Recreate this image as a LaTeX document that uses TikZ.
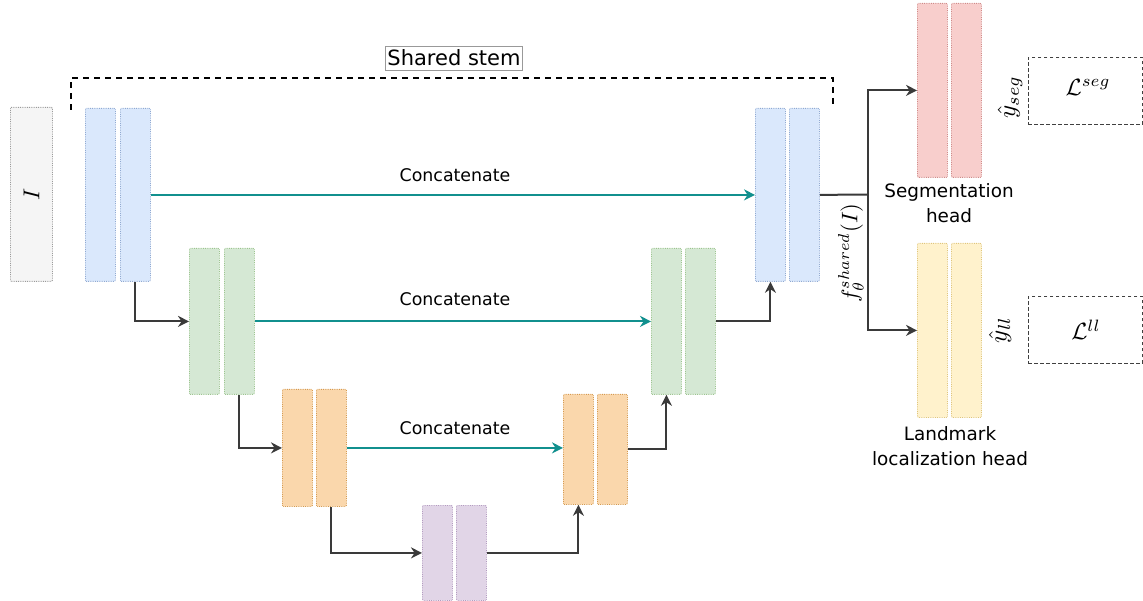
\documentclass[tikz,border=0pt]{standalone}
\usepackage{graphicx}
\usepackage{fontspec}
\setmainfont{DejaVu Sans}
\usetikzlibrary{arrows.meta}

\definecolor{grayfill}{HTML}{F5F5F5}\definecolor{graydraw}{HTML}{9A9A9A}
\definecolor{bluefill}{HTML}{DAE8FC}\definecolor{bluedraw}{HTML}{8FA9D3}
\definecolor{greenfill}{HTML}{D5E8D4}\definecolor{greendraw}{HTML}{9CC48F}
\definecolor{orangefill}{HTML}{FAD7AC}\definecolor{orangedraw}{HTML}{D69A4E}
\definecolor{purplefill}{HTML}{E1D5E7}\definecolor{purpledraw}{HTML}{B39BC0}
\definecolor{redfill}{HTML}{F8CECC}\definecolor{reddraw}{HTML}{D08A88}
\definecolor{yellowfill}{HTML}{FFF2CC}\definecolor{yellowdraw}{HTML}{E0C57A}
\definecolor{skip}{HTML}{11908E}
\definecolor{flow}{HTML}{3A3A3A}

\newcommand\blk[6]{\node[layer,#6,minimum width=#4pt,minimum height=#5pt,anchor=north west] (#1) at (#2,#3) {};}
\newcommand\scaledmath[2]{\scalebox{#1}{$#2$}}

\begin{document}
\begin{tikzpicture}[x=1pt,y=-1pt,
  layer/.style={densely dotted,line width=0.8pt,inner sep=0pt,rounded corners=1pt},
  gray/.style={fill=grayfill,draw=graydraw},
  blue/.style={fill=bluefill,draw=bluedraw},
  green/.style={fill=greenfill,draw=greendraw},
  orange/.style={fill=orangefill,draw=orangedraw},
  purple/.style={fill=purplefill,draw=purpledraw},
  red/.style={fill=redfill,draw=reddraw},
  yellow/.style={fill=yellowfill,draw=yellowdraw},
  concat/.style={draw=skip,line width=1.8pt,-{Stealth[length=11pt,width=11pt]}},
  down/.style={draw=flow,line width=2pt,-{Stealth[length=11pt,width=11pt]}},
  txt/.style={font=\fontsize{17.4}{25}\selectfont,inner sep=0pt,align=center},
  headcaption/.style={font=\fontsize{18.4}{25}\selectfont,inner sep=0pt,align=center},
  mth/.style={inner sep=0pt},
  loss/.style={draw=black!75,line width=0.9pt,dash pattern=on 3.5pt off 2.5pt}
]
\useasboundingbox (0,0) rectangle (1143,601);

% input image
\blk{inp}{10}{107}{42}{174}{gray}
\node[mth,rotate=90] (inlbl) at (inp.center) {\scaledmath{2.3}{I}};

% encoder
\blk{ea1}{85}{108}{30}{173}{blue}
\blk{eb1}{120}{108}{30}{173}{blue}
\blk{ea2}{189}{248}{30}{146}{green}
\blk{eb2}{224}{248}{30}{146}{green}
\blk{ea3}{282}{389}{30}{117}{orange}
\blk{eb3}{316}{389}{30}{117}{orange}
% bottleneck
\blk{bna}{422}{505}{30}{95}{purple}
\blk{bnb}{456}{505}{30}{95}{purple}
% decoder
\blk{da3}{563}{394}{30}{110}{orange}
\blk{db3}{597}{394}{30}{110}{orange}
\blk{da2}{651}{248}{30}{146}{green}
\blk{db2}{685}{248}{30}{146}{green}
\blk{da1}{755}{108}{30}{173}{blue}
\blk{db1}{789}{108}{30}{173}{blue}
% heads
\blk{sga}{917}{3}{30}{174}{red}
\blk{sgb}{951}{3}{30}{174}{red}
\blk{lla}{917}{243}{30}{174}{yellow}
\blk{llb}{951}{243}{30}{174}{yellow}

% shared stem bracket
\coordinate (brl) at (71,110);
\coordinate (brr) at (833,108);
\draw[line width=1.8pt,dash pattern=on 6pt off 5pt] (brl) -- (71,78) -- (833,78) -- (brr);
\node[font=\fontsize{21}{25}\selectfont,draw=black!40,line width=0.5pt,inner xsep=2pt,inner ysep=4pt,fill=white] (stem) at (454,58) {Shared stem};

% skip connections
\draw[concat] (eb1.east) -- (da1.west);
\node[txt] (c1) at (455,175) {Concatenate};
\draw[concat] (eb2.east) -- (da2.west);
\node[txt] (c2) at (455,299) {Concatenate};
\draw[concat] (eb3.east) -- (eb3.east -| da3.west);
\node[txt] (c3) at (455,428) {Concatenate};

% down path
\draw[down] (eb1.south) |- (ea2.west);
\draw[down] (eb2.south) |- (ea3.west);
\draw[down] (eb3.south) |- (bna.west);
% up path
\draw[down] (bnb.east) -| (da3.south);
\draw[down] (db3.east) -| (da2.south);
\draw[down] (db2.east) -| (da1.south);

% branch to heads
\coordinate (split) at (868,194.5);
\draw[flow,line width=2pt] (db1.east) -- (split);
\draw[down] (split) |- (sga.west);
\draw[down] (split) |- (lla.west);
\node[mth,rotate=90] (flbl) at (851,253) {\scaledmath{2.25}{f_\theta^{shared}(I)}};

% head captions
\node[headcaption] (sgcap) at (949,203) {Segmentation\\head};
\node[headcaption] (llcap) at (950,446) {Landmark\\localization head};

% predictions and losses
\node[mth,rotate=90] (yseg) at (1010,97) {\scaledmath{2.5}{\hat{y}_{seg}}};
\node[mth,rotate=90] (yll) at (1000,330) {\scaledmath{2.5}{\hat{y}_{ll}}};
\node[loss,minimum width=114pt,minimum height=67pt,anchor=north west] (lseg) at (1028,57) {};
\node[mth] (lsegt) at (1088,87) {\scaledmath{2.35}{\mathcal{L}^{seg}}};
\node[loss,minimum width=114pt,minimum height=67pt,anchor=north west] (lll) at (1028,296) {};
\node[mth] (lllt) at (1086,330) {\scaledmath{2.35}{\mathcal{L}^{ll}}};
\end{tikzpicture}
\end{document}
